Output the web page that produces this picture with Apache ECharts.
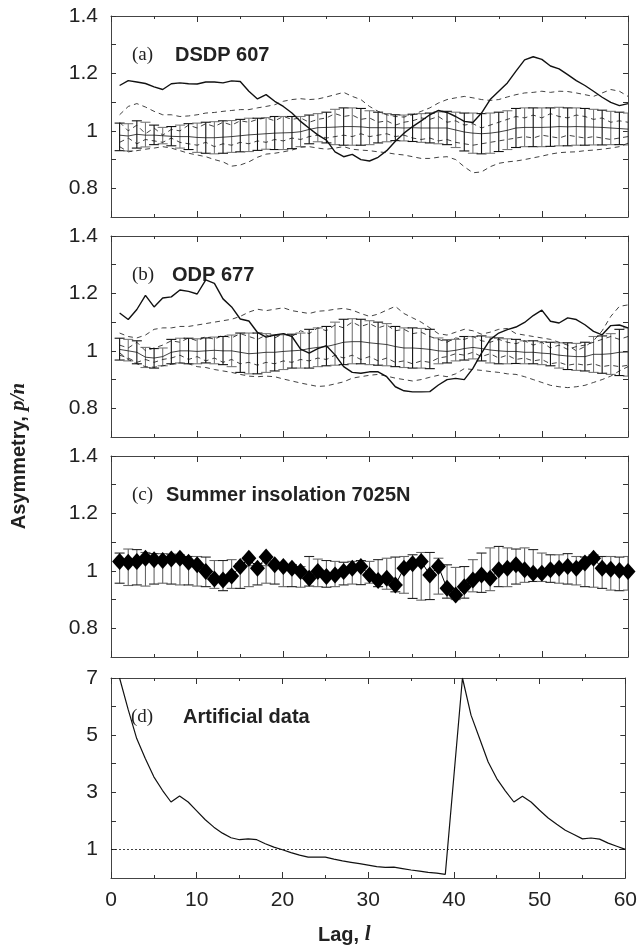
<!DOCTYPE html>
<html>
<head>
<meta charset="utf-8">
<script src="https://cdn.jsdelivr.net/npm/echarts@6/dist/echarts.min.js"></script>
<style>
  html, body { margin: 0; padding: 0; background: #fff; }
  #chart { width: 640px; height: 947px; }
</style>
</head>
<body>
<div id="chart"></div>
<script>
// ============================================
// Asymmetry p/n vs lag, four stacked panels
// ============================================

const lags = [1,2,3,4,5,6,7,8,9,10,11,12,13,14,15,16,17,18,19,20,21,22,23,24,25,26,27,28,29,30,
  31,32,33,34,35,36,37,38,39,40,41,42,43,44,45,46,47,48,49,50,51,52,53,54,55,56,57,58,59,60];

const xTicks = [0, 10, 20, 30, 40, 50, 60];
const ratioLabels = [0.8, 1, 1.2, 1.4];
const ratioTicks = [0.8, 0.9, 1, 1.1, 1.2, 1.3, 1.4];
const artLabels = [1, 3, 5, 7];
const artTicks = [1, 2, 3, 4, 5, 6, 7];
const refLevel = 1;

// (a) DSDP 607
const aObs = [1.158,1.175,1.17,1.165,1.153,1.144,1.164,1.167,1.164,1.163,1.17,1.17,1.167,1.174,1.172,1.138,1.111,1.126,1.103,1.085,
  1.062,1.033,1.009,0.986,0.968,0.927,0.91,0.918,0.9,0.895,0.908,0.931,0.964,0.992,1.015,1.035,1.056,1.071,1.064,1.05,
  1.033,1.029,1.062,1.109,1.138,1.167,1.208,1.247,1.258,1.249,1.226,1.216,1.196,1.175,1.158,1.138,1.117,1.099,1.088,1.095];
const aHigh = [1.027,1.025,1.035,1.03,1.02,1.012,1.015,1.02,1.025,1.027,1.03,1.032,1.035,1.036,1.04,1.044,1.044,1.046,1.05,1.05,
  1.05,1.05,1.055,1.06,1.065,1.075,1.08,1.08,1.078,1.07,1.065,1.06,1.056,1.055,1.058,1.06,1.062,1.066,1.068,1.065,
  1.062,1.062,1.06,1.062,1.065,1.07,1.078,1.08,1.08,1.08,1.08,1.082,1.08,1.08,1.078,1.075,1.072,1.068,1.065,1.062];
const aLow = [0.931,0.93,0.94,0.944,0.952,0.955,0.948,0.94,0.935,0.925,0.922,0.92,0.922,0.925,0.927,0.928,0.932,0.936,0.935,0.935,
  0.938,0.945,0.955,0.962,0.958,0.952,0.95,0.95,0.95,0.952,0.958,0.962,0.966,0.965,0.963,0.96,0.958,0.955,0.952,0.942,
  0.93,0.922,0.92,0.922,0.928,0.935,0.942,0.945,0.945,0.945,0.946,0.948,0.948,0.95,0.95,0.951,0.951,0.952,0.952,0.951];
const aMean = [0.985,0.982,0.988,0.985,0.985,0.983,0.981,0.98,0.98,0.977,0.976,0.976,0.978,0.98,0.983,0.986,0.988,0.99,0.992,0.993,
  0.994,0.997,1.005,1.011,1.012,1.013,1.015,1.015,1.014,1.011,1.011,1.011,1.011,1.01,1.011,1.01,1.01,1.01,1.01,1.003,
  0.996,0.992,0.99,0.992,0.996,1.002,1.01,1.012,1.012,1.012,1.013,1.015,1.014,1.015,1.014,1.013,1.012,1.01,1.008,1.006];
const aUp = [1.056,1.085,1.095,1.083,1.068,1.056,1.056,1.05,1.052,1.056,1.062,1.064,1.068,1.071,1.074,1.074,1.08,1.085,1.091,1.103,
  1.109,1.112,1.109,1.111,1.118,1.126,1.134,1.12,1.109,1.085,1.068,1.056,1.05,1.048,1.056,1.068,1.08,1.097,1.109,1.115,
  1.12,1.115,1.109,1.106,1.109,1.118,1.126,1.132,1.134,1.138,1.134,1.138,1.137,1.132,1.126,1.12,1.132,1.144,1.138,1.12];
const aDn = [0.945,0.927,0.931,0.936,0.94,0.945,0.94,0.931,0.922,0.916,0.91,0.9,0.892,0.877,0.881,0.892,0.908,0.919,0.922,0.927,
  0.933,0.943,0.945,0.94,0.936,0.94,0.945,0.936,0.933,0.931,0.927,0.924,0.919,0.916,0.91,0.904,0.904,0.908,0.91,0.9,
  0.875,0.854,0.857,0.875,0.887,0.892,0.895,0.9,0.906,0.912,0.919,0.924,0.926,0.927,0.931,0.933,0.936,0.94,0.945,0.957];
const aMid1 = [1.03,1.0,1.02,0.99,1.01,0.985,1.005,1.0,1.02,1.01,1.025,1.015,1.03,1.02,1.035,1.03,1.04,1.045,1.035,1.05,
  1.04,1.045,1.03,1.04,1.045,1.06,1.05,1.055,1.04,1.045,1.03,1.035,1.02,1.03,1.035,1.045,1.04,1.05,1.03,1.035,
  1.02,1.025,1.01,1.02,1.03,1.04,1.05,1.045,1.055,1.045,1.06,1.05,1.045,1.055,1.05,1.04,1.045,1.03,1.035,1.03];
const aMid2 = [0.96,0.975,0.955,0.97,0.965,0.96,0.975,0.96,0.955,0.95,0.96,0.945,0.955,0.95,0.96,0.955,0.965,0.96,0.97,0.965,
  0.975,0.97,0.98,0.985,0.975,0.98,0.985,0.98,0.99,0.98,0.985,0.99,0.98,0.985,0.975,0.97,0.975,0.965,0.97,0.96,
  0.955,0.95,0.955,0.96,0.965,0.97,0.975,0.98,0.975,0.985,0.98,0.975,0.985,0.98,0.975,0.98,0.975,0.97,0.975,0.98];

// (b) ODP 677
const bObs = [1.132,1.109,1.144,1.193,1.153,1.184,1.188,1.212,1.207,1.198,1.247,1.235,1.181,1.153,1.111,1.104,1.064,1.048,1.055,1.06,
  1.05,1.006,0.992,1.008,1.018,0.986,0.945,0.925,0.922,0.927,0.927,0.91,0.875,0.861,0.857,0.857,0.858,0.881,0.9,0.904,
  0.9,0.939,0.992,1.039,1.062,1.074,1.083,1.099,1.123,1.142,1.103,1.097,1.115,1.109,1.091,1.068,1.056,1.088,1.09,1.08];
const bHigh = [1.044,1.04,1.035,1.012,1.008,1.01,1.04,1.044,1.044,1.042,1.045,1.048,1.05,1.055,1.062,1.062,1.062,1.06,1.055,1.056,
  1.058,1.062,1.075,1.08,1.085,1.1,1.11,1.112,1.11,1.105,1.1,1.095,1.085,1.08,1.08,1.078,1.075,1.045,1.038,1.04,
  1.05,1.05,1.052,1.048,1.045,1.042,1.04,1.035,1.035,1.032,1.03,1.028,1.028,1.026,1.03,1.05,1.052,1.06,1.075,1.08];
const bLow = [0.968,0.965,0.955,0.942,0.94,0.948,0.955,0.958,0.955,0.955,0.958,0.955,0.952,0.945,0.925,0.92,0.92,0.925,0.93,0.935,
  0.94,0.94,0.94,0.945,0.948,0.95,0.952,0.955,0.955,0.952,0.95,0.948,0.945,0.942,0.94,0.94,0.938,0.955,0.958,0.965,
  0.968,0.972,0.965,0.958,0.955,0.955,0.956,0.955,0.955,0.952,0.948,0.94,0.935,0.932,0.93,0.925,0.922,0.918,0.914,0.912];
const bMean = [1.005,1.0,0.995,0.978,0.975,0.98,0.995,1.0,1.0,0.998,1.0,1.002,1.0,1.0,0.995,0.99,0.992,0.995,0.995,0.998,
  1.0,1.002,1.008,1.012,1.015,1.022,1.03,1.032,1.032,1.028,1.025,1.022,1.015,1.01,1.01,1.008,1.005,1.0,0.998,1.002,
  1.008,1.012,1.008,1.003,1.0,0.998,0.998,0.995,0.995,0.992,0.99,0.985,0.982,0.98,0.98,0.988,0.988,0.99,0.995,0.996];
const bUp = [1.062,1.05,1.045,1.055,1.075,1.08,1.08,1.085,1.085,1.09,1.095,1.1,1.105,1.11,1.12,1.135,1.145,1.14,1.145,1.15,
  1.14,1.135,1.13,1.138,1.14,1.145,1.148,1.142,1.13,1.12,1.128,1.142,1.155,1.13,1.115,1.1,1.08,1.06,1.055,1.065,
  1.075,1.07,1.058,1.065,1.075,1.078,1.06,1.055,1.05,1.045,1.04,1.03,1.02,1.0,1.015,1.035,1.07,1.12,1.155,1.16];
const bDn = [0.993,0.97,0.955,0.945,0.943,0.948,0.953,0.958,0.955,0.945,0.942,0.935,0.93,0.925,0.918,0.912,0.91,0.912,0.91,0.902,
  0.895,0.888,0.882,0.876,0.878,0.885,0.892,0.905,0.91,0.915,0.918,0.912,0.905,0.9,0.895,0.9,0.908,0.915,0.91,0.92,
  0.938,0.935,0.932,0.928,0.925,0.92,0.918,0.91,0.9,0.89,0.88,0.875,0.872,0.875,0.88,0.89,0.9,0.912,0.93,0.945];
const bMid1 = [1.02,1.01,1.03,1.0,1.01,1.02,1.035,1.03,1.045,1.035,1.05,1.04,1.055,1.045,1.06,1.05,1.04,1.055,1.045,1.06,
  1.05,1.07,1.06,1.08,1.07,1.09,1.08,1.1,1.085,1.095,1.08,1.09,1.07,1.075,1.06,1.065,1.05,1.04,1.03,1.045,
  1.04,1.05,1.035,1.03,1.04,1.03,1.025,1.035,1.02,1.03,1.01,1.02,1.005,1.015,1.02,1.03,1.04,1.05,1.04,1.05];
const bMid2 = [0.985,0.975,0.96,0.97,0.96,0.97,0.975,0.985,0.97,0.98,0.965,0.975,0.96,0.97,0.955,0.96,0.95,0.96,0.955,0.965,
  0.96,0.97,0.965,0.975,0.97,0.985,0.975,0.985,0.97,0.98,0.965,0.975,0.96,0.965,0.955,0.965,0.96,0.975,0.98,0.99,
  0.985,0.995,0.98,0.99,0.975,0.985,0.97,0.975,0.965,0.97,0.955,0.96,0.95,0.955,0.95,0.955,0.945,0.95,0.945,0.95];

// (c) Summer insolation
const cVal = [1.033,1.03,1.033,1.044,1.039,1.036,1.041,1.044,1.03,1.021,0.998,0.972,0.968,0.982,1.015,1.044,1.009,1.048,1.021,1.015,
  1.009,0.998,0.974,0.998,0.98,0.986,0.998,1.009,1.015,0.986,0.966,0.974,0.951,1.009,1.025,1.033,0.986,1.015,0.939,0.916,
  0.945,0.968,0.986,0.974,1.004,1.009,1.021,1.004,0.992,0.992,1.004,1.009,1.015,1.009,1.027,1.044,1.009,1.006,1.001,0.998];
const cHigh = [1.062,1.076,1.074,1.064,1.06,1.06,1.058,1.056,1.05,1.05,1.048,1.036,1.036,1.039,1.025,1.018,1.025,1.018,1.015,1.009,
  1.021,1.015,1.05,1.041,1.036,1.033,1.03,1.033,1.036,1.033,1.039,1.044,1.048,1.05,1.056,1.064,1.064,1.044,1.021,1.012,
  1.015,1.039,1.062,1.08,1.085,1.08,1.076,1.08,1.074,1.062,1.056,1.056,1.06,1.05,1.048,1.056,1.05,1.05,1.048,1.05];
const cLow = [0.957,0.949,0.951,0.947,0.954,0.957,0.954,0.951,0.951,0.947,0.945,0.939,0.931,0.939,0.939,0.945,0.951,0.957,0.954,0.945,
  0.945,0.943,0.947,0.945,0.943,0.945,0.951,0.954,0.952,0.957,0.945,0.936,0.927,0.922,0.904,0.898,0.9,0.919,0.905,0.9,
  0.905,0.927,0.925,0.931,0.945,0.945,0.954,0.96,0.963,0.963,0.96,0.957,0.954,0.951,0.945,0.943,0.939,0.933,0.931,0.933];

// (d) Artificial data
const dVal = [7.0,5.9,4.88,4.18,3.54,3.07,2.66,2.87,2.66,2.35,2.04,1.78,1.57,1.41,1.34,1.37,1.34,1.2,1.08,0.99,
  0.89,0.8,0.73,0.73,0.73,0.66,0.6,0.55,0.5,0.45,0.4,0.37,0.38,0.33,0.28,0.24,0.2,0.17,0.13,3.56,
  7.0,5.7,4.88,4.06,3.48,3.05,2.66,2.86,2.66,2.37,2.1,1.88,1.67,1.52,1.37,1.4,1.36,1.22,1.11,1.0];

const SANS = 'Liberation Sans, Arial, sans-serif';
const SERIF = 'Liberation Serif, Times New Roman, serif';
const AXIS_COLOR = '#444';

const panels = [
    { top: 16,  height: 201, min: 0.7, max: 1.4, labels: ratioLabels, ticks: ratioTicks },
    { top: 236, height: 201, min: 0.7, max: 1.4, labels: ratioLabels, ticks: ratioTicks },
    { top: 456, height: 201, min: 0.7, max: 1.4, labels: ratioLabels, ticks: ratioTicks },
    { top: 678, height: 200, min: 0,   max: 7,   labels: artLabels,   ticks: artTicks }
];

function pairs(values) {
    return lags.map((x, k) => [x, values[k]]);
}

// 軸設定
const xAxes = [];
const yAxes = [];
panels.forEach((p, i) => {
    ['bottom', 'top'].forEach(pos => {
        xAxes.push({
            type: 'value', gridIndex: i, position: pos, min: 0, max: 60, interval: 10,
            axisLine: { onZero: false, lineStyle: { color: AXIS_COLOR, width: 1 } },
            axisTick: { inside: true, length: 6, lineStyle: { color: '#333' } },
            minorTick: { show: true, splitNumber: 2, length: 3, lineStyle: { color: '#333' } },
            axisLabel: { show: pos === 'bottom' && i === 3, fontSize: 21, fontFamily: SANS, color: '#222', margin: 12,
                customValues: xTicks },
            splitLine: { show: false }
        });
    });
    ['left', 'right'].forEach(pos => {
        yAxes.push({
            type: 'value', gridIndex: i, position: pos, min: p.min, max: p.max,
            axisLine: { show: true, onZero: false, lineStyle: { color: AXIS_COLOR, width: 1 } },
            axisTick: { show: true, inside: true, length: 5, customValues: p.ticks, lineStyle: { color: '#333' } },
            axisLabel: { show: pos === 'left', fontSize: 21, fontFamily: SANS, color: '#222', margin: 13,
                customValues: p.labels },
            splitLine: { show: false }
        });
    });
});

function errorBars(i, lo, hi, barColors, capColors, capHalf) {
    return {
        type: 'custom', xAxisIndex: 2 * i, yAxisIndex: 2 * i, silent: true, clip: true, z: 1,
        data: lags.map((x, k) => [x, lo[k], hi[k]]),
        encode: { x: 0, y: [1, 2] },
        renderItem: (params, api) => {
            const a = api.coord([api.value(0), api.value(1)]);
            const b = api.coord([api.value(0), api.value(2)]);
            const bc = barColors[params.dataIndex % barColors.length];
            const cc = capColors[params.dataIndex % capColors.length];
            return {
                type: 'group',
                children: [
                    { type: 'line', shape: { x1: a[0], y1: a[1], x2: b[0], y2: b[1] }, style: { stroke: bc, lineWidth: 1.1 } },
                    { type: 'line', shape: { x1: a[0] - capHalf, y1: a[1], x2: a[0] + capHalf, y2: a[1] }, style: { stroke: cc, lineWidth: 1.1 } },
                    { type: 'line', shape: { x1: b[0] - capHalf, y1: b[1], x2: b[0] + capHalf, y2: b[1] }, style: { stroke: cc, lineWidth: 1.1 } }
                ]
            };
        }
    };
}

function line(i, values, width, dashed, z) {
    return {
        type: 'line', xAxisIndex: 2 * i, yAxisIndex: 2 * i, data: pairs(values),
        symbol: 'none', silent: true, z: z || 2,
        lineStyle: { color: '#111', width: width, type: dashed ? [5, 4] : 'solid' }
    };
}

const series = [
    errorBars(0, aLow, aHigh, ['#111', '#777'], ['#111', '#777'], 5),
    line(0, aMean, 0.8, false),
    line(0, aUp, 0.8, true), line(0, aDn, 0.8, true),
    line(0, aMid1, 0.8, true), line(0, aMid2, 0.8, true),
    line(0, aObs, 1.4, false, 3),

    errorBars(1, bLow, bHigh, ['#111', '#777'], ['#111', '#777'], 5),
    line(1, bMean, 0.8, false),
    line(1, bUp, 0.8, true), line(1, bDn, 0.8, true),
    line(1, bMid1, 0.8, true), line(1, bMid2, 0.8, true),
    line(1, bObs, 1.4, false, 3),

    errorBars(2, cLow, cHigh, ['#666'], ['#222', '#666'], 5),
    {
        type: 'line', xAxisIndex: 4, yAxisIndex: 4, data: pairs(cVal), silent: true, z: 3,
        symbol: 'diamond', symbolSize: [15, 17],
        itemStyle: { color: '#000' },
        lineStyle: { color: '#000', width: 1 }
    },

    {
        type: 'line', xAxisIndex: 6, yAxisIndex: 6, data: pairs(dVal), symbol: 'none', silent: true,
        lineStyle: { color: '#111', width: 1.2 },
        markLine: {
            silent: true, symbol: 'none', label: { show: false },
            lineStyle: { color: '#111', width: 0.8, type: [2, 2] },
            data: [{ yAxis: refLevel }]
        }
    }
];

// 面板標籤
const tags = [
    { y: 55,  tag: '(a)', tx: 132, name: 'DSDP 607', nx: 175 },
    { y: 275, tag: '(b)', tx: 132, name: 'ODP 677', nx: 172 },
    { y: 495, tag: '(c)', tx: 132, name: 'Summer insolation 7025N', nx: 166 },
    { y: 717, tag: '(d)', tx: 131, name: 'Artificial data', nx: 183 }
];
const graphic = [];
tags.forEach(t => {
    graphic.push({ type: 'text', x: t.tx, y: t.y, silent: true,
        style: { text: t.tag, fontSize: 19, fontFamily: SERIF, fill: '#222', verticalAlign: 'middle' } });
    graphic.push({ type: 'text', x: t.nx, y: t.y, silent: true,
        style: { text: t.name, fontSize: 20, fontWeight: 'bold', fontFamily: SANS, fill: '#222', verticalAlign: 'middle' } });
});
graphic.push({
    type: 'text', x: 19, y: 456, rotation: Math.PI / 2, silent: true,
    style: {
        text: '{b|Asymmetry, }{i|p/n}', align: 'center', verticalAlign: 'middle',
        rich: {
            b: { fontSize: 20, fontWeight: 'bold', fontFamily: SANS, fill: '#222' },
            i: { fontSize: 21, fontWeight: 'bold', fontStyle: 'italic', fontFamily: SERIF, fill: '#222' }
        }
    }
});
graphic.push({
    type: 'text', x: 318, y: 935, silent: true,
    style: {
        text: '{b|Lag, }{i|l}', verticalAlign: 'middle',
        rich: {
            b: { fontSize: 20, fontWeight: 'bold', fontFamily: SANS, fill: '#222' },
            i: { fontSize: 21, fontWeight: 'bold', fontStyle: 'italic', fontFamily: SERIF, fill: '#222' }
        }
    }
});

const chart = echarts.init(document.getElementById('chart'), null, { renderer: 'canvas' });
chart.setOption({
    animation: false,
    backgroundColor: '#fff',
    grid: panels.map(p => ({ left: 111, right: 12, top: p.top, height: p.height, containLabel: false })),
    xAxis: xAxes,
    yAxis: yAxes,
    series: series,
    graphic: graphic
});
</script>
</body>
</html>
